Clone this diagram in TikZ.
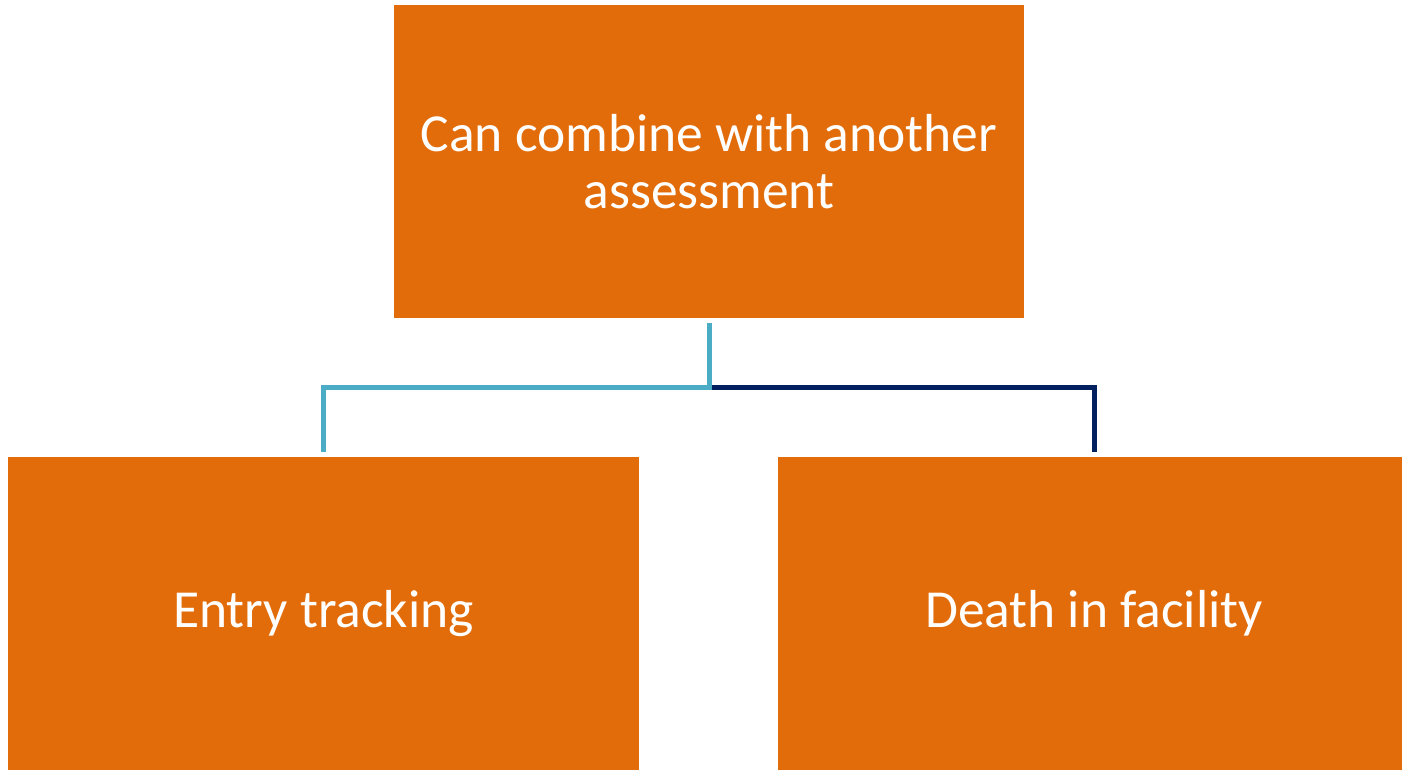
\documentclass[tikz,border=0pt]{standalone}
\usepackage{fontspec}
\setmainfont{Carlito}
\definecolor{boxorange}{HTML}{E36C0A}
\definecolor{linkblue}{HTML}{4BACC6}
\definecolor{linknavy}{HTML}{002060}
\begin{document}
\begin{tikzpicture}[x=1pt,y=-1pt,
  orgbox/.style={rectangle, fill=boxorange, draw=none, text=white,
    font=\fontsize{53.5}{57}\selectfont, align=center, inner sep=0pt},
  link/.style={line width=5pt, line join=miter}]
\useasboundingbox (0,0) rectangle (1402,772);
\begin{scope}
\clip (0,0) rectangle (1402,772);
\node[orgbox, minimum width=630pt, minimum height=313pt] (top) at (709,161.5)
  {Can combine with another\\assessment};
\node[orgbox, minimum width=631pt, minimum height=313pt] (left) at (323.5,613.5)
  {Entry tracking};
\node[orgbox, minimum width=632pt, minimum height=313pt] (right) at (1094,613.5)
  {Death in facility};
\end{scope}
\coordinate (fork) at ([yshift=-69pt]top.south);
\draw[link, linknavy] (fork) -| ([yshift=5pt]right.north);
\draw[link, linkblue] ([yshift=-5pt]top.south) -- (fork) -| ([yshift=5pt]left.north);
\end{tikzpicture}
\end{document}
